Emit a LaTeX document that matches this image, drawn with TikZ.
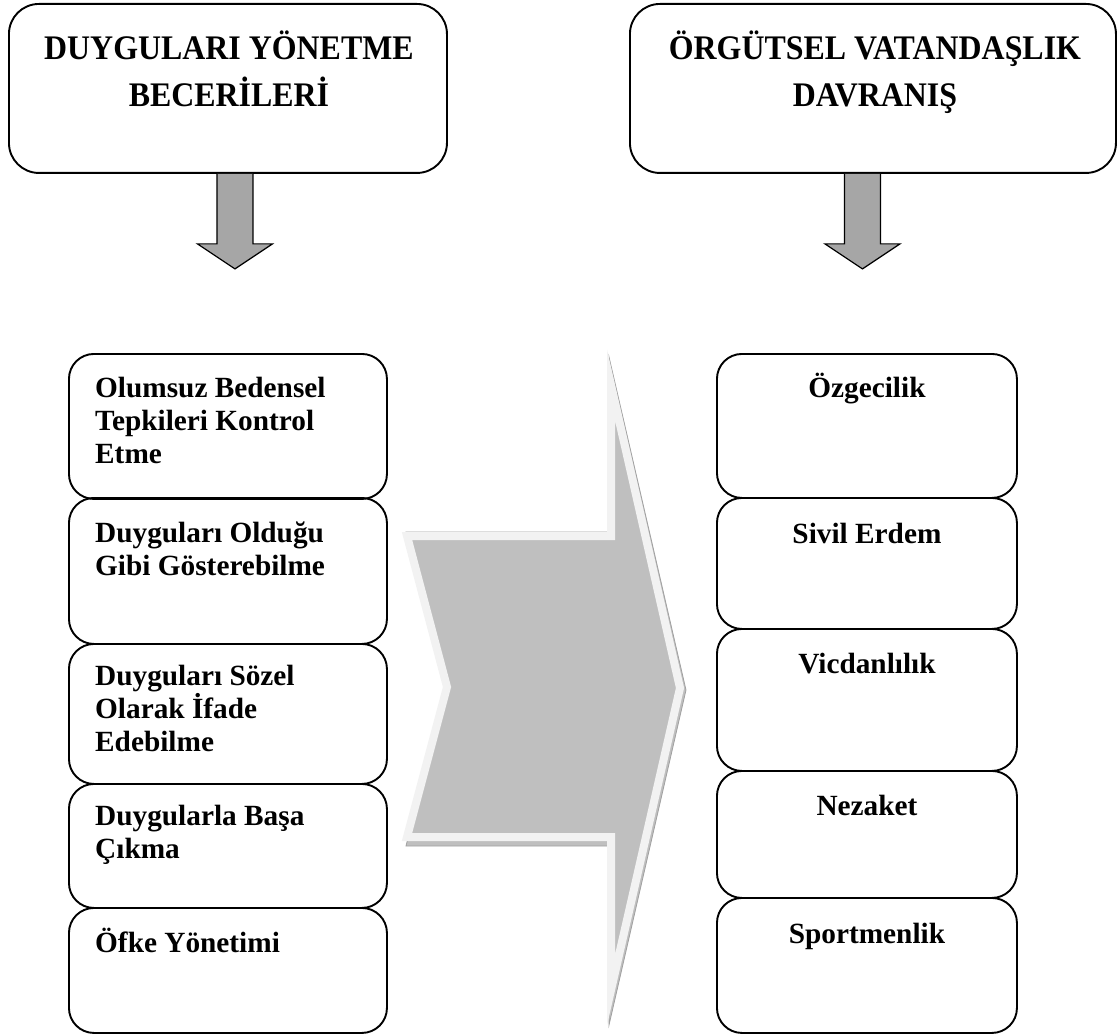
\documentclass[tikz,border=0pt]{standalone}
\usepackage{fontspec}
\setmainfont{Liberation Serif}
\usetikzlibrary{calc}
\definecolor{arrowgray}{HTML}{A6A6A6}
\definecolor{chevgray}{HTML}{BFBFBF}
\definecolor{chevlight}{HTML}{F2F2F2}
\definecolor{chevedge}{HTML}{A0A0A0}
\newcommand{\tallt}[1]{\scalebox{1}[1.08]{#1}}
\tikzset{
  bigbox/.style={draw, line width=1.9pt, rounded corners=30pt, anchor=north west, inner sep=0pt, minimum height=169pt},
  itembox/.style={draw, line width=1.9pt, rounded corners=25pt, anchor=north west, inner sep=0pt},
  titletext/.style={font=\fontsize{31.9}{47}\selectfont\bfseries, align=center, inner sep=0pt, anchor=base},
  itemtext/.style={font=\fontsize{29.3}{33}\selectfont\bfseries, inner sep=0pt, anchor=base west},
  ctext/.style={font=\fontsize{29.3}{33}\selectfont\bfseries, inner sep=0pt, anchor=base},
  downarrow/.style={draw=black, line width=1.2pt, fill=arrowgray, line join=miter}
}
\begin{document}
\begin{tikzpicture}[x=1pt,y=-1pt]
\useasboundingbox (0,0) rectangle (1117,1035);
% top boxes
\node[bigbox, minimum width=438pt] (tl) at (8,3) {};
\node[bigbox, minimum width=486pt] (tr) at (629,3) {};
\node[titletext] (tlt1) at ($(tl.north)+(1,57)$) {\tallt{DUYGULARI YÖNETME}};
\node[titletext] (tlt2) at ($(tl.north)+(1,104)$) {\tallt{BECERİLERİ}};
\node[titletext] (trt1) at ($(tr.north)+(2,57)$) {\tallt{ÖRGÜTSEL VATANDAŞLIK}};
\node[titletext] (trt2) at ($(tr.north)+(2,104)$) {\tallt{DAVRANIŞ}};
% down arrows
\coordinate (la) at ($(tl.south)+(7,0)$);
\draw[downarrow] ($(la)+(-18,0)$) -- ($(la)+(-18,70)$) -- ($(la)+(-37.5,70)$) -- ($(la)+(0,95)$) -- ($(la)+(37.5,70)$) -- ($(la)+(18,70)$) -- ($(la)+(18,0)$);
\coordinate (ra) at ($(tr.south)+(-10.5,0)$);
\draw[downarrow] ($(ra)+(-18,0)$) -- ($(ra)+(-18,70)$) -- ($(ra)+(-37.5,70)$) -- ($(ra)+(0,95)$) -- ($(ra)+(37.5,70)$) -- ($(ra)+(18,70)$) -- ($(ra)+(18,0)$);
% left column
\node[itembox, minimum width=318pt, minimum height=145pt] (l1) at (68,353) {};
\node[itembox, minimum width=318pt, minimum height=146pt] (l2) at (68,497) {};
\node[itembox, minimum width=318pt, minimum height=140pt] (l3) at (68,643) {};
\node[itembox, minimum width=318pt, minimum height=124pt] (l4) at (68,783) {};
\node[itembox, minimum width=318pt, minimum height=125pt] (l5) at (68,907) {};
\node[itemtext] (l1t) at ($(l1.north west)+(27,44)$) {\vtop{\hbox{Olumsuz Bedensel}\hbox{Tepkileri Kontrol}\hbox{Etme}}};
\node[itemtext] (l2t) at ($(l2.north west)+(27,45)$) {\vtop{\hbox{Duyguları Olduğu}\hbox{Gibi Gösterebilme}}};
\node[itemtext] (l3t) at ($(l3.north west)+(27,42)$) {\vtop{\hbox{Duyguları Sözel}\hbox{Olarak İfade}\hbox{Edebilme}}};
\node[itemtext] (l4t) at ($(l4.north west)+(27,42)$) {\vtop{\hbox{Duygularla Başa}\hbox{Çıkma}}};
\node[itemtext] (l5t) at ($(l5.north west)+(27,45)$) {Öfke Yönetimi};
% right column
\node[itembox, minimum width=300pt, minimum height=144pt] (r1) at (716,353) {};
\node[itembox, minimum width=300pt, minimum height=131pt] (r2) at (716,497) {};
\node[itembox, minimum width=300pt, minimum height=142pt] (r3) at (716,628) {};
\node[itembox, minimum width=300pt, minimum height=127pt] (r4) at (716,770) {};
\node[itembox, minimum width=300pt, minimum height=135pt] (r5) at (716,897) {};
\node[ctext] (r1t) at ($(r1.north)+(0,44)$) {Özgecilik};
\node[ctext] (r2t) at ($(r2.north)+(0,46)$) {Sivil Erdem};
\node[ctext] (r3t) at ($(r3.north)+(0,45)$) {Vicdanlılık};
\node[ctext] (r4t) at ($(r4.north)+(0,45)$) {Nezaket};
\node[ctext] (r5t) at ($(r5.north)+(0,46)$) {Sportmenlik};
% big chevron
\fill[chevgray, draw=chevedge, line width=0.8pt] (406,532) -- (608,532) -- (609,357) -- (686,690) -- (609,1025) -- (608,846) -- (406,846) -- (446,690) -- cycle;
\filldraw[fill=chevgray, draw=chevlight, line width=8pt, line join=miter, miter limit=20] (407,536) -- (611,536) -- (611,385) -- (680,688) -- (611,990) -- (611,837) -- (407,837) -- (447,687) -- cycle;
\end{tikzpicture}
\end{document}
